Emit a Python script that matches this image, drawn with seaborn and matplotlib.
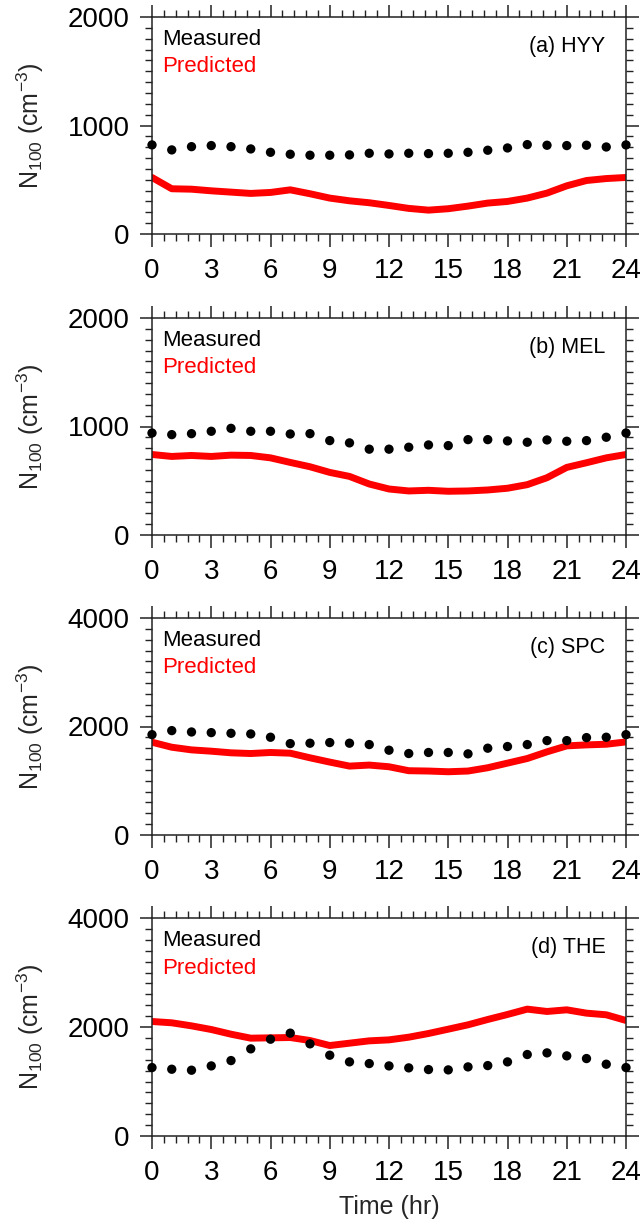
import numpy as np
import pandas as pd
import matplotlib
matplotlib.use("Agg")
import matplotlib.pyplot as plt
import seaborn as sns
from matplotlib.ticker import MultipleLocator

hours = list(range(25))

hyy_measured = [821, 775, 805, 815, 805, 784, 753, 735, 726, 726, 729, 744, 738, 744, 741, 744, 753, 772, 793, 824, 818, 815, 818, 802, 821]
hyy_predicted = [521, 417, 413, 398, 386, 374, 383, 407, 371, 331, 306, 288, 263, 236, 220, 233, 257, 285, 300, 331, 377, 444, 493, 511, 521]

mel_measured = [940, 925, 934, 956, 983, 956, 956, 931, 934, 870, 849, 791, 791, 809, 830, 824, 879, 879, 867, 855, 876, 864, 870, 901, 940]
mel_predicted = [742, 724, 733, 724, 736, 733, 711, 669, 629, 577, 540, 470, 424, 406, 412, 403, 406, 415, 431, 464, 528, 623, 666, 711, 742]

spc_measured = [1850, 1924, 1899, 1887, 1875, 1863, 1802, 1685, 1692, 1704, 1692, 1667, 1563, 1502, 1521, 1521, 1496, 1600, 1631, 1667, 1740, 1740, 1795, 1802, 1850]
spc_predicted = [1710, 1618, 1569, 1545, 1515, 1502, 1521, 1508, 1423, 1344, 1270, 1289, 1258, 1185, 1179, 1166, 1179, 1240, 1325, 1410, 1533, 1643, 1661, 1673, 1716]

the_measured = [1256, 1225, 1207, 1286, 1384, 1599, 1776, 1887, 1691, 1482, 1360, 1329, 1286, 1250, 1219, 1213, 1268, 1292, 1360, 1495, 1525, 1470, 1421, 1317, 1256]
the_predicted = [2101, 2077, 2021, 1954, 1868, 1795, 1801, 1807, 1752, 1660, 1703, 1746, 1764, 1813, 1881, 1960, 2040, 2138, 2230, 2328, 2285, 2315, 2254, 2224, 2120]

panel_titles = ["(a) HYY", "(b) MEL", "(c) SPC", "(d) THE"]
y_max = [2000, 2000, 4000, 4000]
x_ticks = [0, 3, 6, 9, 12, 15, 18, 21, 24]

sns.set_theme(style="ticks")
plt.rcParams['font.family'] = ['Liberation Sans', 'DejaVu Sans']
plt.rcParams['mathtext.fontset'] = 'custom'
plt.rcParams['mathtext.rm'] = 'Liberation Sans'
plt.rcParams['mathtext.it'] = 'Liberation Sans'

fig = plt.figure(figsize=(6.43, 12.24), dpi=100)
W, H = 643.0, 1224.0
left, right = 152, 626
tops = [17, 318, 618, 918]
bottoms = [234, 535, 835, 1136]

series = [(hyy_measured, hyy_predicted), (mel_measured, mel_predicted),
          (spc_measured, spc_predicted), (the_measured, the_predicted)]

for i in range(4):
    ax = fig.add_axes([left / W, 1 - bottoms[i] / H, (right - left) / W, (bottoms[i] - tops[i]) / H])
    meas, pred = series[i]
    df = pd.DataFrame({"hour": hours, "measured": meas, "predicted": pred})
    sns.lineplot(data=df, x="hour", y="predicted", ax=ax, color="#ff0000", linewidth=5, zorder=2)
    sns.scatterplot(data=df, x="hour", y="measured", ax=ax, color="black", s=45,
                    edgecolor="none", zorder=3, clip_on=False)
    ax.set_xlim(0, 24)
    ax.set_ylim(0, y_max[i])
    ax.set_xticks(x_ticks)
    ax.xaxis.set_minor_locator(MultipleLocator(0.6))
    ax.yaxis.set_major_locator(MultipleLocator(y_max[i] / 2))
    ax.yaxis.set_minor_locator(MultipleLocator(y_max[i] / 20))
    ax.tick_params(which='both', direction='out', top=True, right=True, colors='#222222',
                   labelcolor='black')
    ax.tick_params(which='major', length=9, width=1.1, labelsize=20)
    ax.tick_params(which='minor', length=5, width=1.0)
    ax.tick_params(axis='x', which='major', pad=8)
    ax.tick_params(axis='y', which='major', pad=7)
    for sp in ax.spines.values():
        sp.set_linewidth(1.1)
        sp.set_color('#222222')
    ax.set_ylabel(r"N$_{100}$ (cm$^{-3}$)", fontsize=18, labelpad=16)
    if i == 3:
        ax.set_xlabel("Time (hr)", fontsize=18, labelpad=7)
    else:
        ax.set_xlabel("")
    ax.text(0.021, 0.895, "Measured", transform=ax.transAxes, fontsize=16,
            color="black", ha="left", va="center")
    ax.text(0.021, 0.77, "Predicted", transform=ax.transAxes, fontsize=16,
            color="#ff0000", ha="left", va="center")
    ax.text(0.957, 0.865, panel_titles[i], transform=ax.transAxes, fontsize=15.5,
            color="black", ha="right", va="center")

fig.savefig("out.png", dpi=100)
